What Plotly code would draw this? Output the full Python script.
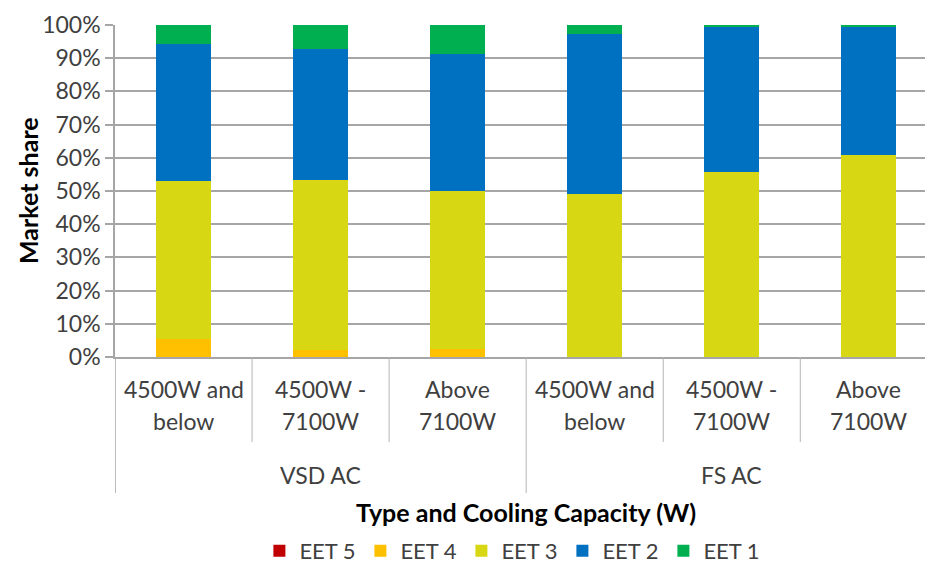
import plotly.graph_objects as go

# Market share by energy efficiency tier (EET), per AC type and cooling capacity
groups = ["VSD AC", "FS AC"]
capacity_line1 = ["4500W and", "4500W -", "Above"]
capacity_line2 = ["below", "7100W", "7100W"]

series_names = ["EET 5", "EET 4", "EET 3", "EET 2", "EET 1"]
series_colors = ["#C00000", "#FFC000", "#D7D714", "#0070C0", "#00B050"]

eet5 = [0.0, 0.0, 0.0, 0.0, 0.0, 0.0]
eet4 = [5.4, 2.0, 2.3, 0.0, 0.0, 0.0]
eet3 = [47.6, 51.4, 47.6, 49.1, 55.7, 60.7]
eet2 = [41.4, 39.4, 41.4, 48.3, 43.8, 38.8]
eet1 = [5.6, 7.2, 8.7, 2.6, 0.5, 0.5]

y_ticks = list(range(0, 101, 10))
y_tick_labels = [f"{v}%" for v in y_ticks]

series_values = [eet5, eet4, eet3, eet2, eet1]
n_per_group = len(capacity_line1)
n_bars = n_per_group * len(groups)
x_pos = list(range(n_bars))

FONT = "Lato"
TICK_COLOR = "#404040"
GRID_COLOR = "#A6A6A6"
DIVIDER_COLOR = "#B4B4B4"
LABEL_SIZE = 23
TITLE_SIZE = 25

fig = go.Figure()
for name, color, vals in zip(series_names, series_colors, series_values):
    fig.add_trace(go.Bar(
        x=x_pos, y=vals, name=name,
        marker=dict(color=color, line=dict(width=0)),
        width=0.4,
    ))

# plot area spans 332 px vertically; helper to express pixel offsets below the axis
PLOT_H = 332.0


def below(px):
    return -px / PLOT_H


annotations = []
for i in x_pos:
    annotations.append(dict(x=i, y=below(32), xref="x", yref="paper",
                            text=capacity_line1[i % n_per_group], showarrow=False,
                            xanchor="center", yanchor="middle",
                            font=dict(family=FONT, size=LABEL_SIZE, color=TICK_COLOR)))
    annotations.append(dict(x=i, y=below(64), xref="x", yref="paper",
                            text=capacity_line2[i % n_per_group], showarrow=False,
                            xanchor="center", yanchor="middle",
                            font=dict(family=FONT, size=LABEL_SIZE, color=TICK_COLOR)))
for g, gname in enumerate(groups):
    annotations.append(dict(x=g * n_per_group + (n_per_group - 1) / 2, y=below(118),
                            xref="x", yref="paper", text=gname, showarrow=False,
                            xanchor="center", yanchor="middle",
                            font=dict(family=FONT, size=LABEL_SIZE, color=TICK_COLOR)))
annotations.append(dict(x=(n_bars - 1) / 2, y=below(155), xref="x", yref="paper",
                        text="<b>Type and Cooling Capacity (W)</b>", showarrow=False,
                        xanchor="center", yanchor="middle",
                        font=dict(family=FONT, size=TITLE_SIZE, color="#000000")))
annotations.append(dict(x=-0.1074, y=0.5, xref="paper", yref="paper",
                        text="<b>Market share</b>", showarrow=False, textangle=-90,
                        xanchor="center", yanchor="middle",
                        font=dict(family=FONT, size=TITLE_SIZE, color="#000000")))

# category boundaries: short lines between capacities, long lines between AC types
shapes = []
for b in range(n_bars):
    edge = b - 0.5
    long_line = (b % n_per_group == 0)
    shapes.append(dict(type="line", xref="x", yref="paper",
                       x0=edge, x1=edge, y0=0, y1=below(136 if long_line else 85),
                       line=dict(color=DIVIDER_COLOR if b else GRID_COLOR,
                                 width=1 if b else 1.5)))

fig.update_layout(
    width=925, height=565,
    margin=dict(l=115, r=0, t=25, b=208, autoexpand=False),
    paper_bgcolor="white", plot_bgcolor="white",
    barmode="stack",
    font=dict(family=FONT, size=LABEL_SIZE, color=TICK_COLOR),
    xaxis=dict(range=[-0.5, n_bars - 0.5 - 0.09], showticklabels=False,
               showgrid=False, zeroline=False, ticks="",
               showline=True, linecolor=GRID_COLOR, linewidth=1.5),
    yaxis=dict(range=[0, 100], tickvals=y_ticks, ticktext=y_tick_labels,
               showgrid=True, gridcolor=GRID_COLOR, gridwidth=1.5,
               zeroline=False, showline=True, linecolor=GRID_COLOR, linewidth=1.5,
               ticks="outside", ticklen=8, tickcolor=GRID_COLOR, tickwidth=1.5,
               tickfont=dict(family=FONT, size=LABEL_SIZE, color=TICK_COLOR)),
    legend=dict(orientation="h", x=0.49, y=below(194), xanchor="center", yanchor="middle",
                font=dict(family=FONT, size=22, color=TICK_COLOR),
                traceorder="normal", entrywidth=56, itemwidth=30),
    annotations=annotations,
    shapes=shapes,
    bargap=0.6,
)

fig.write_html("out.html")
